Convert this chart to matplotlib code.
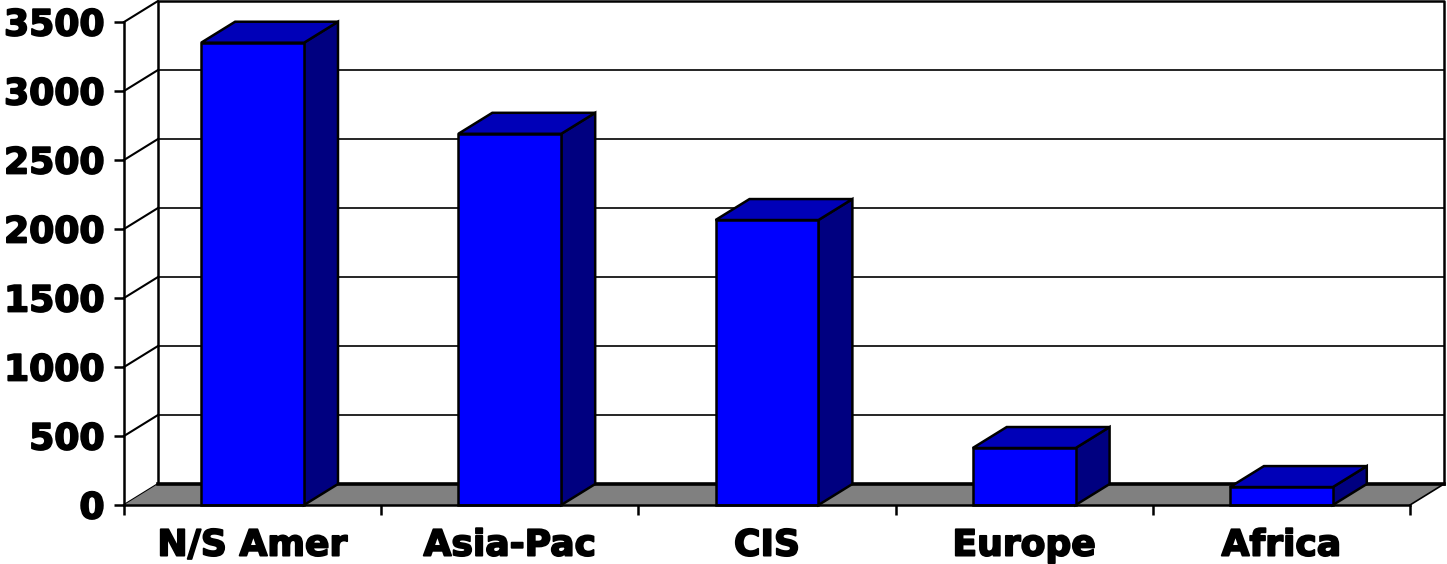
import matplotlib.pyplot as plt
import matplotlib.patheffects as pe
from matplotlib.patches import Polygon

regions = ["N/S Amer", "Asia-Pac", "CIS", "Europe", "Africa"]
values = [3350, 2690, 2065, 413, 130]
yticks = [0, 500, 1000, 1500, 2000, 2500, 3000, 3500]

plt.rcParams['font.family'] = ['DejaVu Sans']
plt.rcParams['font.weight'] = 'bold'

fig = plt.figure(figsize=(14.47, 5.64), dpi=100)
ax = fig.add_axes([124 / 1447, 59 / 564, 1286 / 1447, 483 / 564])
ax.set_xlim(0, len(regions))
ax.set_ylim(0, 3500)
ax.patch.set_visible(False)

# depth offset of the fake 3d box, in data units
dx = 0.132
dy = 152
ymax = 3500
n = len(regions)

# back wall outline + gridlines
ax.plot([dx, dx, n + dx, n + dx], [dy, ymax + dy, ymax + dy, dy],
        color="black", lw=1.8, clip_on=False, zorder=2)
for v in yticks[1:-1]:
    ax.plot([dx, n + dx], [v + dy, v + dy], color="black", lw=1.2,
            clip_on=False, zorder=1)
# side wall diagonals
for v in yticks:
    ax.plot([0, dx], [v, v + dy], color="black", lw=1.5, clip_on=False, zorder=2)

# floor
floor = Polygon([(0, 0), (n, 0), (n + dx, dy), (dx, dy)], closed=True,
                facecolor="#808080", edgecolor="none", clip_on=False, zorder=3)
ax.add_patch(floor)
ax.plot([dx, n + dx], [dy, dy], color="black", lw=2.6, clip_on=False, zorder=3)
ax.plot([n, n + dx], [0, dy], color="black", lw=1.2, clip_on=False, zorder=3)

# bars
w = 0.2
for i, v in enumerate(values):
    c = i + 0.5
    side = Polygon([(c + w, 0), (c + w + dx, dy), (c + w + dx, v + dy), (c + w, v)],
                   facecolor="#000080", edgecolor="black", lw=1.8,
                   clip_on=False, zorder=4)
    top = Polygon([(c - w, v), (c + w, v), (c + w + dx, v + dy), (c - w + dx, v + dy)],
                  facecolor="#0000B8", edgecolor="black", lw=1.8,
                  clip_on=False, zorder=4)
    front = Polygon([(c - w, 0), (c + w, 0), (c + w, v), (c - w, v)],
                    facecolor="#0000FF", edgecolor="black", lw=1.8,
                    clip_on=False, zorder=5)
    ax.add_patch(side)
    ax.add_patch(top)
    ax.add_patch(front)

for s in ["top", "right"]:
    ax.spines[s].set_visible(False)
ax.spines["left"].set_linewidth(1.8)
ax.spines["bottom"].set_linewidth(1.8)
ax.spines["left"].set_zorder(6)
ax.spines["bottom"].set_zorder(6)

heavy = [pe.withStroke(linewidth=1.3, foreground="black")]

ax.set_yticks(yticks)
ax.set_yticklabels([str(t) for t in yticks], fontsize=26, fontweight="bold")
ax.tick_params(axis="y", length=7, width=1.8, pad=7)

ax.set_xticks(range(n + 1))
ax.set_xticklabels([""] * (n + 1))
ax.set_xticks([i + 0.5 for i in range(n)], minor=True)
ax.set_xticklabels(regions, minor=True, fontsize=26, fontweight="bold")
ax.tick_params(axis="x", which="major", length=7, width=1.8)
ax.tick_params(axis="x", which="minor", length=0, pad=17)

for lbl in ax.get_yticklabels() + ax.get_xticklabels(minor=True):
    lbl.set_path_effects(heavy)

fig.savefig("out.png", dpi=100)
